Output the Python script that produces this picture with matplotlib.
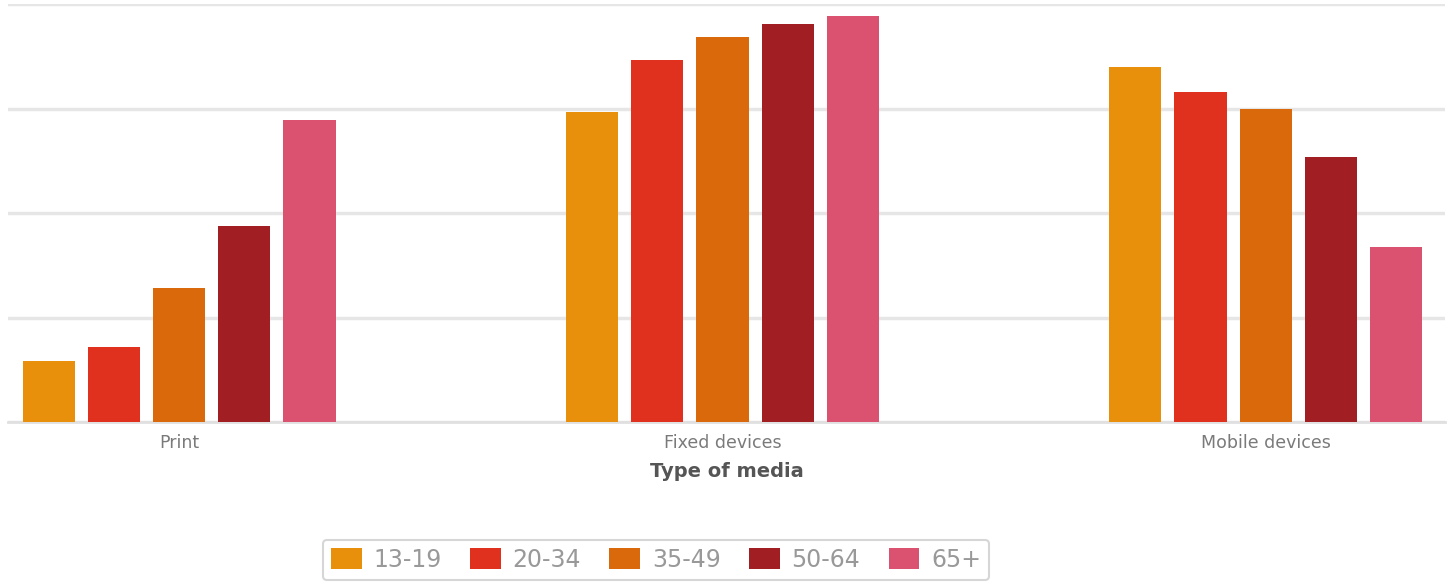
"""Media use by age group, grouped bar chart."""

import matplotlib.pyplot as plt
import numpy as np

# share of each age group using the media type (%)
media_types = ["Print", "Fixed devices", "Mobile devices"]
age_groups = ["13-19", "20-34", "35-49", "50-64", "65+"]
share_13_19 = [14.6, 74.2, 84.9]
share_20_34 = [17.9, 86.6, 78.9]
share_35_49 = [32.0, 92.1, 74.9]
share_50_64 = [46.8, 95.2, 63.4]
share_65_plus = [72.2, 97.1, 41.8]
series = [share_13_19, share_20_34, share_35_49, share_50_64, share_65_plus]
colors = ["#E8900C", "#E0301E", "#D9690A", "#A11F22", "#DB5270"]

fig = plt.figure(figsize=(14.53, 5.84), dpi=100)
ax = fig.add_axes([8 / 1453, 1 - 422 / 584, 1437 / 1453, 418 / 584])

x = np.arange(len(media_types))
pitch = 0.12
width = 0.096
for i, (vals, color, label) in enumerate(zip(series, colors, age_groups)):
    ax.bar(x + (i - 2) * pitch, vals, width, color=color, label=label,
           zorder=3, linewidth=0)

ax.set_xlim(-0.315, 2.33)
ax.set_ylim(0, 100)
ax.set_yticks([0, 25, 50, 75, 100])
ax.yaxis.grid(True, color="#e6e6e6", linewidth=2.5, zorder=0)
ax.tick_params(axis="y", left=False, labelleft=False)
ax.tick_params(axis="x", length=0, pad=9, labelcolor="#7a7a7a", labelsize=12.5)
ax.set_xticks(x)
ax.set_xticklabels(media_types)
for side in ("top", "left", "right"):
    ax.spines[side].set_visible(False)
ax.spines["bottom"].set_color("#e0e0e0")
ax.spines["bottom"].set_linewidth(2)

ax.set_xlabel("Type of media", fontsize=14, fontweight="bold", color="#555555",
              labelpad=7)

leg = fig.legend(loc="center", bbox_to_anchor=(656 / 1453, 1 - 560 / 584),
                 ncol=5, frameon=True, fontsize=17, handlelength=1.3,
                 handleheight=1.0, handletextpad=0.5, columnspacing=1.2,
                 borderpad=0.35, labelcolor="#999999", fancybox=True)
leg.get_frame().set_edgecolor("#cccccc")
leg.get_frame().set_linewidth(1.5)

fig.savefig("out.png", dpi=100)
